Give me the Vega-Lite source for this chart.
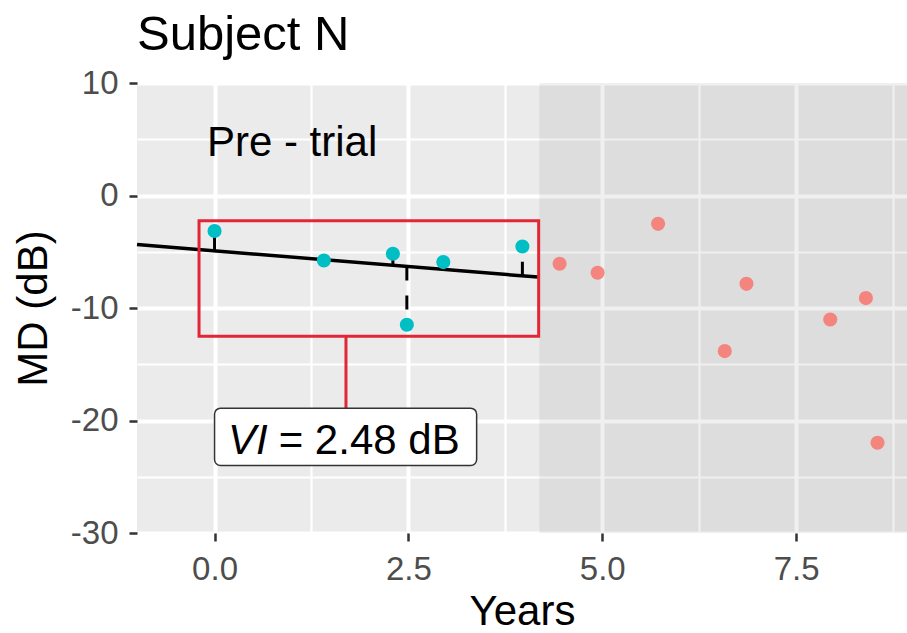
{
  "$schema": "https://vega.github.io/schema/vega-lite/v6.json",
  "width": 770,
  "height": 450,
  "autosize": {"type": "none"},
  "padding": {"left": 137, "top": 83, "right": 0, "bottom": 100},
  "background": "#FFFFFF",
  "title": {"text": "Subject N", "anchor": "start", "frame": "group", "fontSize": 49, "fontWeight": "normal", "color": "#000000", "baseline": "alphabetic", "offset": 0, "dy": 32, "font": "Liberation Sans"},
  "config": {
    "font": "Liberation Sans",
    "view": {"fill": "#EBEBEB", "stroke": null},
    "axis": {"domain": false, "gridColor": "#FFFFFF", "gridOpacity": 1, "tickColor": "#333333", "tickSize": 8, "tickWidth": 2.5, "labelColor": "#4D4D4D", "labelFontSize": 33, "labelFont": "Liberation Sans", "titleFont": "Liberation Sans", "titleFontSize": 42, "titleFontWeight": "normal", "titleColor": "#000000"}
  },
  "datasets": {
    "shade": [{"t": 4.19, "t2": 8.93, "md": 10, "md2": -30}],
    "box": [{"t": -0.2, "t2": 4.18, "md": -2.25, "md2": -12.5}],
    "connector": [{"t": 1.695, "md": -12.5, "md2": -18.9}],
    "labelbox": [{"t": 0.0, "t2": 3.38, "md": -18.9, "md2": -24.0}],
    "fitline": [{"t": -1.0, "md": -4.36}, {"t": 4.17, "md": -7.25}],
    "pre": [
      {"t": 0.0, "md": -3.16, "fit": -4.92},
      {"t": 1.41, "md": -5.78, "fit": -5.71},
      {"t": 2.3, "md": -5.18, "fit": -6.21},
      {"t": 2.48, "md": -11.49, "fit": -6.31},
      {"t": 2.95, "md": -5.92, "fit": -6.57},
      {"t": 3.97, "md": -4.53, "fit": -7.14}
    ],
    "trial": [
      {"t": 4.45, "md": -6.07},
      {"t": 4.94, "md": -6.87},
      {"t": 5.72, "md": -2.52},
      {"t": 6.58, "md": -13.83},
      {"t": 6.86, "md": -7.85},
      {"t": 7.94, "md": -11.02},
      {"t": 8.4, "md": -9.12},
      {"t": 8.55, "md": -21.98}
    ],
    "pretext": [{"t": 1.0, "md": 3.55, "label": "Pre - trial"}],
    "vi1": [{"t": 0.686, "md": -22.96, "label": "VI"}],
    "vi2": [{"t": 0.827, "md": -22.96, "label": "= 2.48 dB"}]
  },
  "encoding": {
    "x": {
      "field": "t", "type": "quantitative",
      "scale": {"domain": [-1, 8.93], "nice": false, "zero": false},
      "axis": {
        "title": "Years",
        "values": [0, 1.25, 2.5, 3.75, 5, 6.25, 7.5, 8.75],
        "labelExpr": "datum.value % 2.5 === 0 ? format(datum.value, '.1f') : ''",
        "tickOpacity": {"condition": {"test": "datum.value % 2.5 === 0", "value": 1}, "value": 0},
        "gridWidth": {"condition": {"test": "datum.value % 2.5 === 0", "value": 4}, "value": 2.2},
        "labelPadding": 12,
        "titlePadding": 5,
        "labelFlush": false,
        "labelOverlap": false
      }
    },
    "y": {
      "field": "md", "type": "quantitative",
      "scale": {"domain": [-30, 10], "nice": false, "zero": false},
      "axis": {
        "title": "MD (dB)",
        "values": [10, 5, 0, -5, -10, -15, -20, -25, -30],
        "labelExpr": "datum.value % 10 === 0 ? '' + datum.value : ''",
        "tickOpacity": {"condition": {"test": "datum.value % 10 === 0", "value": 1}, "value": 0},
        "gridWidth": {"condition": {"test": "datum.value % 10 === 0", "value": 4}, "value": 2.2},
        "labelPadding": 11,
        "titlePadding": 15,
        "labelFlush": false,
        "labelOverlap": false
      }
    }
  },
  "layer": [
    {
      "data": {"name": "shade"},
      "mark": {"type": "rect", "fill": "#000000", "fillOpacity": 0.06},
      "encoding": {"x2": {"field": "t2"}, "y2": {"field": "md2"}}
    },
    {
      "data": {"name": "pre"},
      "mark": {"type": "rule", "color": "#000000", "strokeWidth": 3, "strokeDash": [14, 15]},
      "encoding": {"y": {"field": "fit", "type": "quantitative"}, "y2": {"field": "md"}}
    },
    {
      "data": {"name": "fitline"},
      "mark": {"type": "line", "color": "#000000", "strokeWidth": 3.5},
      "encoding": {}
    },
    {
      "data": {"name": "box"},
      "mark": {"type": "rect", "fill": null, "fillOpacity": 0, "stroke": "#E32636", "strokeWidth": 3},
      "encoding": {"x2": {"field": "t2"}, "y2": {"field": "md2"}}
    },
    {
      "data": {"name": "connector"},
      "mark": {"type": "rule", "color": "#E32636", "strokeWidth": 3},
      "encoding": {"y2": {"field": "md2"}}
    },
    {
      "data": {"name": "labelbox"},
      "mark": {"type": "rect", "fill": "#FFFFFF", "stroke": "#333333", "strokeWidth": 1.5, "cornerRadius": 6},
      "encoding": {"x2": {"field": "t2"}, "y2": {"field": "md2"}}
    },
    {
      "data": {"name": "pre"},
      "mark": {"type": "circle", "color": "#00BFC4", "opacity": 1, "size": 200},
      "encoding": {}
    },
    {
      "data": {"name": "trial"},
      "mark": {"type": "circle", "color": "#F8766D", "opacity": 0.85, "size": 200},
      "encoding": {}
    },
    {
      "data": {"name": "pretext"},
      "mark": {"type": "text", "fontSize": 42, "align": "center", "baseline": "alphabetic", "color": "#000000"},
      "encoding": {"text": {"field": "label"}}
    },
    {
      "data": {"name": "vi1"},
      "mark": {"type": "text", "fontSize": 42, "fontStyle": "italic", "align": "right", "baseline": "alphabetic", "color": "#000000"},
      "encoding": {"text": {"field": "label"}}
    },
    {
      "data": {"name": "vi2"},
      "mark": {"type": "text", "fontSize": 42, "align": "left", "baseline": "alphabetic", "color": "#000000"},
      "encoding": {"text": {"field": "label"}}
    }
  ]
}
